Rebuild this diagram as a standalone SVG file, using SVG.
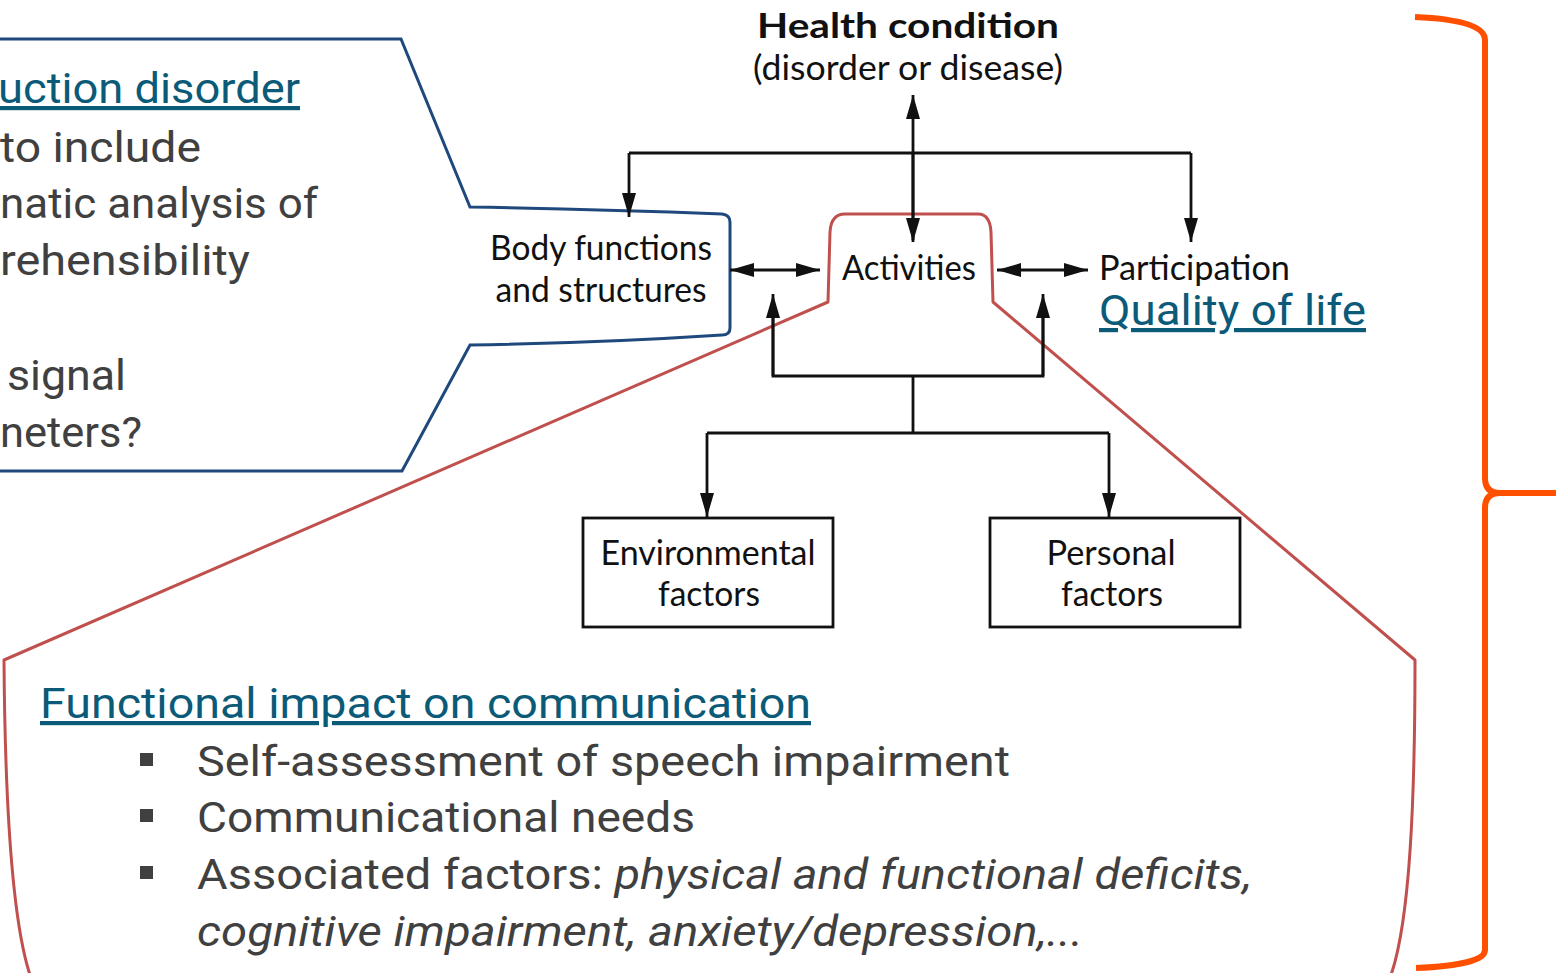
<svg xmlns="http://www.w3.org/2000/svg" width="1556" height="973" viewBox="0 0 1556 973">
<defs>
<marker id="ah" viewBox="0 0 24 14" refX="24" refY="7" markerWidth="24" markerHeight="14" markerUnits="userSpaceOnUse" orient="auto-start-reverse">
<path d="M0,0 L24,7 L0,14 Z" fill="#111"/>
</marker>
<style>
.icf{font-family:Lato,"DejaVu Sans",sans-serif;fill:#111;font-size:34px}
.bold{font-weight:700}
.ln{stroke:#111;stroke-width:2.8;fill:none}
.box{stroke:#111;stroke-width:2.8;fill:#fff}
.gray{font-family:Roboto,"Liberation Sans",sans-serif;fill:#404040;font-size:42px}
.link{font-family:Roboto,"Liberation Sans",sans-serif;fill:#0b5a78;font-size:42px;text-decoration:underline}
.ital{font-style:italic}
</style>
</defs>
<rect width="1556" height="973" fill="#fff"/>

<g id="blue-callout">
<path d="M-5,39 L401,39 L470,207 Q600,209 722,214 Q730,215 730,222 L730,328 Q730,335 722,335 Q600,343 470,345 L402,471 L-5,471" fill="none" stroke="#1f497d" stroke-width="3"/>
<text class="link" x="300" y="103" text-anchor="end" textLength="302" lengthAdjust="spacingAndGlyphs">uction disorder</text>
<text class="gray" x="201" y="162" text-anchor="end" textLength="201" lengthAdjust="spacingAndGlyphs">to include</text>
<text class="gray" x="318" y="218" text-anchor="end" textLength="318" lengthAdjust="spacingAndGlyphs">natic analysis of</text>
<text class="gray" x="250" y="275" text-anchor="end" textLength="250" lengthAdjust="spacingAndGlyphs">rehensibility</text>
<text class="gray" x="126" y="390" text-anchor="end" textLength="119" lengthAdjust="spacingAndGlyphs">signal</text>
<text class="gray" x="142" y="447" text-anchor="end" textLength="142" lengthAdjust="spacingAndGlyphs">neters?</text>
</g>

<g id="red-callout">
<path d="M828,302 L830,232 Q831,214 845,214 L978,214 Q990,214 991,232 L993,302 L1415,660 C1415,800 1410,920 1391,975 L30,975 C12,920 5,800 4,660 Z" fill="none" stroke="#c0504d" stroke-width="3" stroke-linejoin="round"/>
</g>

<g id="bracket">
<path d="M1415,17 Q1485,20 1485,40 L1485,478 Q1485,493 1500,493 L1556,493 M1556,493 L1500,493 Q1485,493 1485,508 L1485,950 Q1485,965 1416,968" fill="none" stroke="#ff5000" stroke-width="6"/>
</g>

<g id="connectors">
<line class="ln" x1="913" y1="240" x2="913" y2="95" marker-end="url(#ah)"/>
<line class="ln" x1="913" y1="153" x2="913" y2="242" marker-end="url(#ah)"/>
<polyline class="ln" points="629,153 1191,153"/>
<line class="ln" x1="629" y1="153" x2="629" y2="217" marker-end="url(#ah)"/>
<line class="ln" x1="1191" y1="153" x2="1191" y2="242" marker-end="url(#ah)"/>
<line class="ln" x1="730" y1="270" x2="820" y2="270" marker-start="url(#ah)" marker-end="url(#ah)"/>
<line class="ln" x1="997" y1="270" x2="1088" y2="270" marker-start="url(#ah)" marker-end="url(#ah)"/>
<polyline class="ln" points="773,300 773,376 1043,376 1043,300"/>
<line class="ln" x1="773" y1="376" x2="773" y2="294" marker-end="url(#ah)"/>
<line class="ln" x1="1043" y1="376" x2="1043" y2="294" marker-end="url(#ah)"/>
<line class="ln" x1="913" y1="376" x2="913" y2="433"/>
<polyline class="ln" points="707,433 1109,433"/>
<line class="ln" x1="707" y1="433" x2="707" y2="517" marker-end="url(#ah)"/>
<line class="ln" x1="1109" y1="433" x2="1109" y2="517" marker-end="url(#ah)"/>
</g>

<g id="health-condition">
<text class="icf bold" x="908" y="38" text-anchor="middle" textLength="302" lengthAdjust="spacingAndGlyphs">Health condition</text>
<text class="icf" x="908" y="80" text-anchor="middle" textLength="310" lengthAdjust="spacingAndGlyphs">(disorder or disease)</text>
</g>

<g id="body-functions">
<text class="icf" x="601" y="260" text-anchor="middle" textLength="222" lengthAdjust="spacingAndGlyphs">Body functions</text>
<text class="icf" x="601" y="302" text-anchor="middle" textLength="211" lengthAdjust="spacingAndGlyphs">and structures</text>
</g>

<g id="activities">
<text class="icf" x="909" y="280" text-anchor="middle" textLength="134" lengthAdjust="spacingAndGlyphs">Activities</text>
</g>

<g id="participation">
<text class="icf" x="1099" y="280" textLength="191" lengthAdjust="spacingAndGlyphs">Participation</text>
<text class="link" x="1099" y="325" font-size="46" textLength="267" lengthAdjust="spacingAndGlyphs">Quality of life</text>
</g>

<g id="environmental">
<rect class="box" x="583" y="518" width="250" height="109"/>
<text class="icf" x="708" y="565" text-anchor="middle" textLength="215" lengthAdjust="spacingAndGlyphs">Environmental</text>
<text class="icf" x="709" y="606" text-anchor="middle" textLength="102" lengthAdjust="spacingAndGlyphs">factors</text>
</g>

<g id="personal">
<rect class="box" x="990" y="518" width="250" height="109"/>
<text class="icf" x="1111" y="565" text-anchor="middle" textLength="129" lengthAdjust="spacingAndGlyphs">Personal</text>
<text class="icf" x="1112" y="606" text-anchor="middle" textLength="102" lengthAdjust="spacingAndGlyphs">factors</text>
</g>

<g id="functional-impact">
<text class="link" x="40" y="718" font-size="46" textLength="771" lengthAdjust="spacingAndGlyphs">Functional impact on communication</text>
<rect x="140" y="753" width="13" height="13" fill="#404040"/>
<rect x="140" y="809" width="13" height="13" fill="#404040"/>
<rect x="140" y="866" width="13" height="13" fill="#404040"/>
<text class="gray" x="197" y="776" font-size="46" textLength="813" lengthAdjust="spacingAndGlyphs">Self-assessment of speech impairment</text>
<text class="gray" x="197" y="832" font-size="46" textLength="498" lengthAdjust="spacingAndGlyphs">Communicational needs</text>
<text class="gray" x="197" y="889" font-size="46" textLength="1055" lengthAdjust="spacingAndGlyphs">Associated factors: <tspan class="ital">physical and functional deficits,</tspan></text>
<text class="gray ital" x="197" y="946" font-size="46" textLength="886" lengthAdjust="spacingAndGlyphs">cognitive impairment, anxiety/depression,...</text>
</g>
</svg>
